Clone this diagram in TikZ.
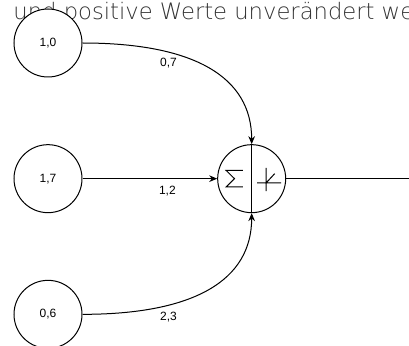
\documentclass[tikz,border=0pt]{standalone}
\usepackage{fontspec}
\setmainfont{Liberation Sans}
\newfontfamily\thinfont{DejaVu Sans ExtraLight}
\usetikzlibrary{positioning, arrows.meta}

\begin{document}
\begin{tikzpicture}[x=0.75pt, y=-0.75pt, line width=0.75pt,
    neuron/.style={draw, circle, fill=white, minimum size=51pt, inner sep=0pt, font=\fontsize{9}{10}\selectfont},
    weight/.style={font=\fontsize{9}{10}\selectfont},
    syn/.style={-{Stealth[length=6pt, width=5pt]}}]
    \useasboundingbox (0,0) rectangle (409,345);

    % testo tagliato in alto
    \node[anchor=base west, inner sep=0pt, text=black!80, font=\thinfont\fontsize{17}{20}\selectfont] (caption) at (13,19.5) {und positive Werte unverändert we};

    \node[neuron] (x1) at (48,43) {1,0};
    \node[neuron, below=50pt of x1] (x2) {1,7};
    \node[neuron, below=50pt of x2] (x3) {0,6};
    \node[neuron, right=101pt of x2] (sum) {};
    \coordinate[right=95pt of sum] (out);

    % somma e attivazione
    \draw (sum.north) -- (sum.south);
    \draw[shift={(sum.center)}] (-8.8,-8.2) -- (-25.5,-8.2) -- (-17.2,0) -- (-25.5,8.2) -- (-8.8,8.2);
    \draw[shift={(sum.center)}] (5.5,4.2) -- (29.5,4.2) (14.5,-10.8) -- (14.5,12.5) (14.5,4.2) -- (23,-5);

    \draw[syn] (x1.east) .. controls +(112,0) and +(0,-67) .. (sum.north) node[weight, pos=0.3, yshift=-8pt] (w1) {0,7};
    \draw[syn] (x2) -- node[weight, pos=0.63, yshift=-9pt] (w2) {1,2} (sum);
    \draw[syn] (x3.east) .. controls +(112,0) and +(0,67) .. (sum.south) node[weight, pos=0.3, yshift=-9pt] (w3) {2,3};
    \draw (sum) -- (out);
\end{tikzpicture}
\end{document}
